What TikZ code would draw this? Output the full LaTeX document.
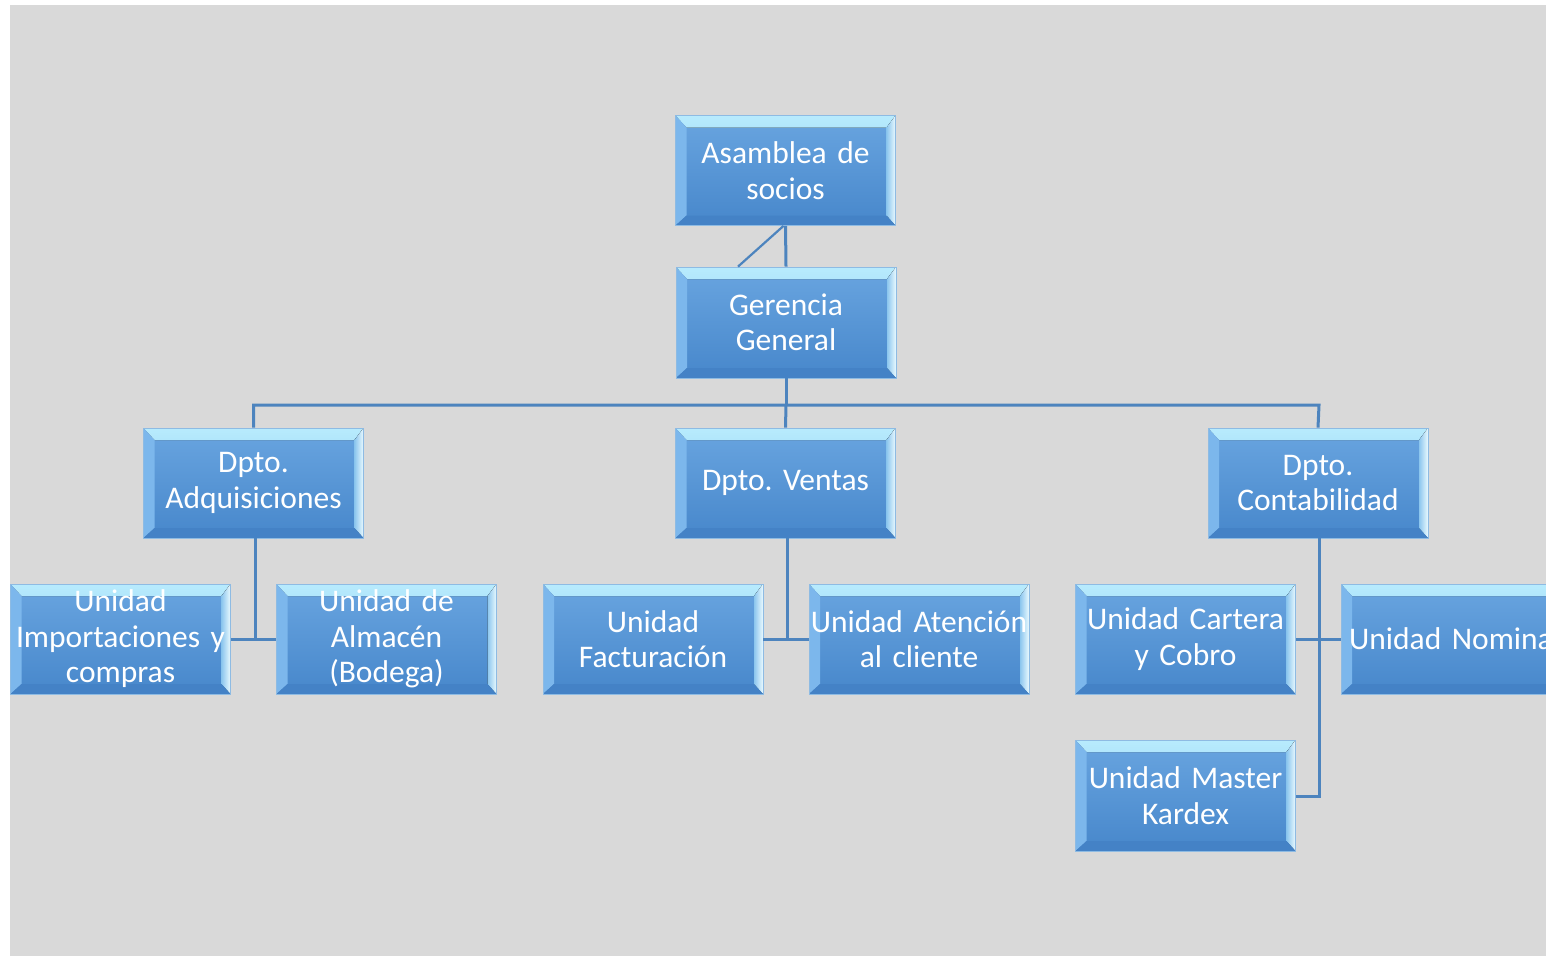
\documentclass[tikz,border=0pt]{standalone}
\usepackage{fontspec}
\setmainfont{Carlito}[WordSpace={0.7,0,0}]
\usetikzlibrary{calc}
\definecolor{bg}{HTML}{D9D9D9}
\definecolor{linec}{HTML}{4D84BE}
\definecolor{facetop}{HTML}{69A5E0}
\definecolor{facebot}{HTML}{4787CB}
\definecolor{bevtop1}{HTML}{B8EBFD}
\definecolor{bevtop2}{HTML}{7BC2F1}
\definecolor{bevleft}{HTML}{7CB7EC}
\definecolor{bevright1}{HTML}{8CC6EE}
\definecolor{bevright2}{HTML}{EAFAFF}
\definecolor{bevbot}{HTML}{4482C6}
\definecolor{boxedge}{HTML}{8EBBE3}
\begin{document}
\frenchspacing
\begin{tikzpicture}[x=1pt,y=-1pt,
  orgbox/.style={rectangle, minimum width=220pt, minimum height=110pt,
    inner sep=0pt, text width=220pt, align=center, text=white,
    font=\fontsize{31.5}{35.5}\selectfont\frenchspacing,
    top color=facetop, bottom color=facebot, draw=boxedge, line width=0.8pt,
    path picture={
      \fill[top color=bevtop1, bottom color=bevtop2]
        (path picture bounding box.north west) --
        (path picture bounding box.north east) --
        ([shift={(-9pt,-12pt)}]path picture bounding box.north east) --
        ([shift={(11pt,-12pt)}]path picture bounding box.north west) -- cycle;
      \fill[bevleft]
        (path picture bounding box.north west) --
        ([shift={(11pt,-12pt)}]path picture bounding box.north west) --
        ([shift={(11pt,10pt)}]path picture bounding box.south west) --
        (path picture bounding box.south west) -- cycle;
      \fill[left color=bevright1, right color=bevright2]
        (path picture bounding box.north east) --
        (path picture bounding box.south east) --
        ([shift={(-9pt,10pt)}]path picture bounding box.south east) --
        ([shift={(-9pt,-12pt)}]path picture bounding box.north east) -- cycle;
      \fill[bevbot]
        (path picture bounding box.south west) --
        ([shift={(11pt,10pt)}]path picture bounding box.south west) --
        ([shift={(-9pt,10pt)}]path picture bounding box.south east) --
        (path picture bounding box.south east) -- cycle;
    }},
  conn/.style={draw=linec, line width=3pt},
  thinconn/.style={draw=linec, line width=2.2pt}]
\useasboundingbox (0,0) rectangle (1546,956);
\clip (0,0) rectangle (1546,956);
\fill[white] (0,0) rectangle (1546,956);
\fill[bg] (10,5) rectangle (1546,956);

\coordinate (bus) at (786,405);
\coordinate (adqbus) at (253.5,405);
\coordinate (conbus) at (1319,405);

\node[orgbox] (ase) at (785.5,170.5) {Asamblea de\\socios};
\node[orgbox, minimum height=111pt] (ger) at (786,322.5) {Gerencia\\General};
\node[orgbox] (adq) at (253.5,483) {Dpto.\\Adquisiciones};
\node[orgbox] (ven) at (785.5,483) {Dpto. Ventas};
\node[orgbox] (con) at (1318,483) {Dpto.\\Contabilidad};
\node[orgbox] (imp) at (120.5,639) {Unidad\\Importaciones y\\compras};
\node[orgbox] (alm) at (386.5,639) {Unidad de\\Almacén\\(Bodega)};
\node[orgbox] (fac) at (653,639) {Unidad\\Facturación};
\node[orgbox] (ate) at (919,639) {Unidad Atención\\al cliente};
\node[orgbox] (car) at (1185.5,639) {Unidad Cartera\\y Cobro};
\node[orgbox] (nom) at (1451,639) {Unidad Nomina};
\node[orgbox, minimum height=111pt] (kar) at (1185.5,795.5) {Unidad Master\\Kardex};

\coordinate (adqdrop) at (255,640);
\coordinate (vendrop) at (787,640);
\coordinate (condrop) at (1319,640);
\coordinate (karturn) at (1319,796);

\draw[conn] (ase.south) -- (ger.north);
\draw[thinconn] ($(ase.south)+(-2pt,0)$) -- ($(ger.north)+(-48pt,0)$);
\draw[conn] (ger.south) -- (bus);
\draw[conn] (adq.north) -- (adqbus) -- (conbus) -- (con.north);
\draw[conn] (bus) -- (ven.north);

\draw[conn] (adq.south -| adqdrop) -- (adqdrop);
\draw[conn] (imp.east) -- (alm.west);
\draw[conn] (ven.south -| vendrop) -- (vendrop);
\draw[conn] (fac.east) -- (ate.west);
\draw[conn] (con.south -| condrop) -- (karturn) -- (kar.east |- karturn);
\draw[conn] (car.east) -- (nom.west);
\end{tikzpicture}
\end{document}
